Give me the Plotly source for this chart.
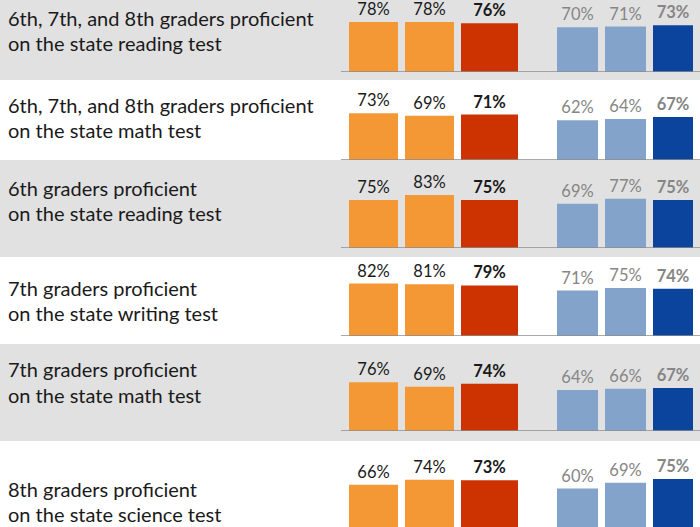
import plotly.graph_objects as go

# ---------------- data ----------------
row_labels = [
    ["6th, 7th, and 8th graders proficient", "on the state reading test"],
    ["6th, 7th, and 8th graders proficient", "on the state math test"],
    ["6th graders proficient", "on the state reading test"],
    ["7th graders proficient", "on the state writing test"],
    ["7th graders proficient", "on the state math test"],
    ["8th graders proficient", "on the state science test"],
]
orange_a = [78, 73, 75, 82, 76, 66]
orange_b = [78, 69, 83, 81, 69, 74]
red_total = [76, 71, 75, 79, 74, 73]
blue_a = [70, 62, 69, 71, 64, 60]
blue_b = [71, 64, 77, 75, 66, 69]
blue_total = [73, 67, 75, 74, 67, 75]

series = [orange_a, orange_b, red_total, blue_a, blue_b, blue_total]

# ---------------- layout constants ----------------
W, H = 700, 527
PX_PER_PCT = 0.64
baselines = [72, 160, 248, 336, 431, 527]          # pixel y of each row's baseline
gray_bands = [(0, 80), (160, 257), (344, 441)]      # pixel y ranges of grey rows
label_lines = [(18, 43), (105, 130), (188, 213), (288, 313), (369, 395), (489, 514)]

slot_x = [373.5, 429.5, 489.5, 577.5, 625.5, 673]
slot_w = [49, 49, 57, 41, 41, 40]
slot_color = ["#F39834", "#F39834", "#CC3300", "#84A3CB", "#84A3CB", "#0B449C"]
slot_txtcol = ["#1a1a1a", "#1a1a1a", "#1a1a1a", "#868686", "#868686", "#868686"]
slot_bold = [False, False, True, False, False, True]

FONT = "Lato"

fig = go.Figure()

for r in range(6):
    yname = "y" if r == 0 else f"y{r+1}"
    for s in range(6):
        v = series[s][r]
        txt = f"{v}%"
        if slot_bold[s]:
            txt = f"<b>{txt}</b>"
        fig.add_trace(go.Bar(
            x=[slot_x[s]], y=[v], width=[slot_w[s]],
            marker=dict(color=slot_color[s], line=dict(width=0)),
            text=[txt], textposition="outside", cliponaxis=False,
            textfont=dict(family=FONT, size=16.5, color=slot_txtcol[s]),
            xaxis="x", yaxis=yname, showlegend=False, hoverinfo="skip",
        ))

layout = dict(
    width=W, height=H,
    margin=dict(l=0, r=0, t=0, b=0),
    paper_bgcolor="white", plot_bgcolor="rgba(0,0,0,0)",
    showlegend=False,
    xaxis=dict(range=[0, W], domain=[0, 1], visible=False, fixedrange=True),
    barmode="overlay",
)

shapes = []
for (y0, y1) in gray_bands:
    shapes.append(dict(type="rect", xref="paper", yref="paper",
                       x0=0, x1=1, y0=1 - y1 / H, y1=1 - y0 / H,
                       fillcolor="#E1E1E1", line=dict(width=0), layer="below"))

annotations = []
for r in range(6):
    key = "yaxis" if r == 0 else f"yaxis{r+1}"
    bottom = (H - baselines[r]) / H
    top = bottom + 100 * PX_PER_PCT / H
    layout[key] = dict(range=[0, 100], domain=[bottom, min(top, 1)],
                       visible=False, fixedrange=True, anchor="x")
    yref = "y" if r == 0 else f"y{r+1}"
    if baselines[r] < H - 1:
        shapes.append(dict(type="line", xref="x", yref=yref, x0=341, x1=W,
                           y0=0, y1=0, line=dict(color="#8C8C8C", width=1.3),
                           layer="above"))
    for li, line in enumerate(row_labels[r]):
        annotations.append(dict(
            text=line, xref="paper", yref="paper",
            x=6 / W, y=1 - label_lines[r][li] / H,
            xanchor="left", yanchor="middle", showarrow=False,
            font=dict(family=FONT, size=20, color="#1a1a1a"), align="left",
        ))

layout["shapes"] = shapes
layout["annotations"] = annotations
fig.update_layout(**layout)

fig.write_html(
    "out.html",
    config={"displayModeBar": False},
    post_script="document.body.style.margin='0px';document.body.style.overflow='hidden';",
)
